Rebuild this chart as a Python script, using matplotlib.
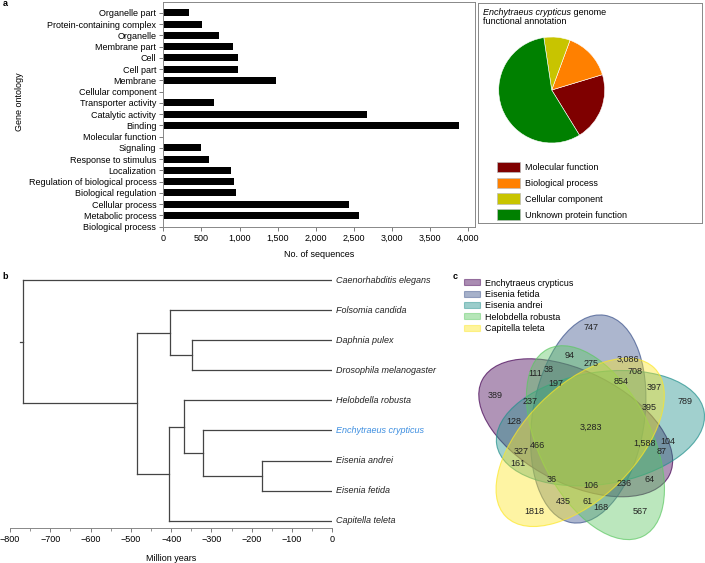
import numpy as np
import matplotlib
matplotlib.use('Agg')
import matplotlib.pyplot as plt
from matplotlib.patches import Ellipse, Patch
from matplotlib.ticker import FuncFormatter, MultipleLocator

plt.rcParams['font.family'] = ['Liberation Sans', 'DejaVu Sans']
plt.rcParams['font.size'] = 6.5

W, H = 705, 563

# ---- panel a: gene ontology counts (bottom to top)
go_terms = ['Biological process', 'Metabolic process', 'Cellular process',
            'Biological regulation', 'Regulation of biological process',
            'Localization', 'Response to stimulus', 'Signaling',
            'Molecular function', 'Binding', 'Catalytic activity',
            'Transporter activity', 'Cellular component', 'Membrane',
            'Cell part', 'Cell', 'Membrane part', 'Organelle',
            'Protein-containing complex', 'Organelle part']
go_counts = [0, 2562, 2440, 953, 927, 892, 595, 494,
             0, 3882, 2667, 660,
             0, 1478, 984, 984, 918, 734, 511, 341]

# ---- pie: functional annotation
pie_labels = ['Molecular function', 'Biological process',
              'Cellular component', 'Unknown protein function']
pie_values = [20.9, 14.7, 8.0, 56.4]
pie_colors = ['#7f0000', '#ff8000', '#c8c400', '#008000']

# ---- panel b: time tree (node age in million years, children)
tree = (-768, ['Caenorhabditis elegans',
               (-484, [(-404, ['Folsomia candida',
                               (-349, ['Daphnia pulex', 'Drosophila melanogaster'])]),
                       (-405, [(-367, ['Helobdella robusta',
                                       (-322, ['Enchytraeus crypticus',
                                               (-174, ['Eisenia andrei', 'Eisenia fetida'])])]),
                               'Capitella teleta'])])])
focal_species = 'Enchytraeus crypticus'

# ---- panel c: venn
venn_sets = ['Enchytraeus crypticus', 'Eisenia fetida', 'Eisenia andrei',
             'Helobdella robusta', 'Capitella teleta']
venn_colors = ['#440154', '#3b528b', '#21908c', '#5dc863', '#fde725']
venn_counts = ['747', '94', '275', '3,086', '708', '111', '38', '197', '854',
               '397', '389', '237', '789', '395', '128', '3,283', '1,588',
               '104', '466', '87', '327', '161', '36', '64', '106', '236',
               '435', '61', '168', '1818', '567']
venn_label_xy = [(591, 327), (570, 355), (591, 364), (628, 359), (635, 371),
                 (535, 373), (549, 369), (556, 383), (621, 381), (654, 387),
                 (495, 395), (530, 402), (685, 402), (649, 408), (514, 421),
                 (591, 427), (645, 443), (668, 441), (537, 446), (662, 451),
                 (521, 451), (518, 464), (552, 479), (650, 479), (591, 486),
                 (624, 483), (563, 502), (588, 502), (601, 507), (534, 511),
                 (640, 511)]


def px_axes(fig, x0, y0, x1, y1):
    return fig.add_axes([x0 / W, 1 - y1 / H, (x1 - x0) / W, (y1 - y0) / H])


fig = plt.figure(figsize=(W / 100, H / 100), dpi=100)
grey = '#666666'

# ================= panel a bars
ax = px_axes(fig, 163.3, 1.5, 475, 227)
ypos = np.arange(len(go_terms))
ax.barh(ypos, go_counts, height=0.62, color='black')
ax.set_yticks(ypos)
ax.set_yticklabels(go_terms)
ax.set_xlim(0, 4088)
ax.set_ylim(-0.03, 20.0)
ax.set_xticks(np.arange(0, 4001, 500))
ax.xaxis.set_major_formatter(FuncFormatter(lambda v, p: f'{int(v):,}'))
ax.tick_params(length=3, width=0.6, color=grey, pad=2)
for s in ax.spines.values():
    s.set_color('#888888')
    s.set_linewidth(0.7)
ax.set_xlabel('No. of sequences', labelpad=5)
fig.text(19 / W, 1 - 102 / H, 'Gene ontology', rotation=90, ha='center', va='center')

# ================= pie panel
box = px_axes(fig, 478, 3, 702, 223)
box.set_xticks([])
box.set_yticks([])
for s in box.spines.values():
    s.set_color('#888888')
    s.set_linewidth(0.7)
t1 = fig.text(483 / W, 1 - 12.5 / H, 'Enchytraeus crypticus', style='italic', va='center')
box.annotate(' genome', xy=(1, 0.5), xycoords=t1, va='center', ha='left')
fig.text(483 / W, 1 - 21.8 / H, 'functional annotation', va='center')

pax = px_axes(fig, 498.7, 37, 604.7, 143)
pax.pie(pie_values, colors=pie_colors, startangle=-58.4, counterclock=True,
        wedgeprops=dict(edgecolor='white', linewidth=0.4))
pax.set_xlim(-1, 1)
pax.set_ylim(-1, 1)
pax.set_aspect('equal')
box.legend([Patch(facecolor=c, edgecolor='#bbbbbb', linewidth=0.5) for c in pie_colors],
           pie_labels, loc='upper left', bbox_to_anchor=(497 / W, 1 - 161.7 / H),
           bbox_transform=fig.transFigure, frameon=False, borderpad=0,
           borderaxespad=0, handlelength=2.5, handleheight=1.45,
           labelspacing=0.57, handletextpad=0.6, fontsize=6.5)

# ================= panel b tree
tax = px_axes(fig, 10, 277, 332.3, 528.3)
line_kw = dict(color='#444444', linewidth=0.9, solid_capstyle='projecting')
leaf_y = [8]


def draw(node):
    if isinstance(node, str):
        y = leaf_y[0]
        leaf_y[0] -= 1
        col = '#3d8ee0' if node == focal_species else '#222222'
        tax.annotate(node, xy=(0, y), xytext=(3, 0), textcoords='offset points',
                     style='italic', va='center', ha='left', color=col,
                     annotation_clip=False)
        return 0, y
    age, children = node
    ys = []
    for ch in children:
        cx, cy = draw(ch)
        tax.plot([age, cx], [cy, cy], **line_kw)
        ys.append(cy)
    tax.plot([age, age], [min(ys), max(ys)], **line_kw)
    return age, (ys[0] + ys[-1]) / 2


root_x, root_y = draw(tree)
tax.plot([root_x - 7, root_x], [root_y, root_y], **line_kw)
tax.set_xlim(-800, 0)
tax.set_ylim(-0.253, 8.1)
for s in ['top', 'right', 'left']:
    tax.spines[s].set_visible(False)
tax.spines['bottom'].set_color('#888888')
tax.spines['bottom'].set_linewidth(0.7)
tax.set_yticks([])
tax.xaxis.set_major_locator(MultipleLocator(100))
tax.xaxis.set_minor_locator(MultipleLocator(50))
tax.tick_params(axis='x', which='major', length=3, width=0.6, color=grey, pad=2)
tax.tick_params(axis='x', which='minor', length=2, width=0.5, color=grey)
tax.set_xlabel('Million years', labelpad=7)

# ================= panel c venn (symmetric five-ellipse layout, pixel units)
vax = px_axes(fig, 440, 262, 705, 563)
vax.set_xlim(440, 705)
vax.set_ylim(563, 262)
vax.axis('off')
ox, oy, off, ea, eb = 588, 432, 13, 105, 56
tip_angles = [161, 89, 17, 305, 233]
for ang, col in zip(tip_angles, venn_colors):
    r = np.deg2rad(ang)
    cx, cy = ox + off * np.cos(r), oy - off * np.sin(r)
    vax.add_patch(Ellipse((cx, cy), 2 * ea, 2 * eb, angle=-(ang - 8),
                          facecolor=col, alpha=0.42, edgecolor='none'))
    vax.add_patch(Ellipse((cx, cy), 2 * ea, 2 * eb, angle=-(ang - 8),
                          facecolor='none', edgecolor=col, alpha=0.7, linewidth=0.8))
for txt, (x, y) in zip(venn_counts, venn_label_xy):
    vax.text(x, y, txt, ha='center', va='center', fontsize=6.5, color='#222222')
vax.legend([Patch(facecolor=c, alpha=0.45, edgecolor=c, linewidth=0.8) for c in venn_colors],
           venn_sets, loc='upper left', bbox_to_anchor=(464 / W, 1 - 278.5 / H),
           bbox_transform=fig.transFigure, frameon=False, borderpad=0,
           borderaxespad=0, handlelength=1.75, handleheight=0.65,
           labelspacing=0.26, handletextpad=0.6, fontsize=6.5)

# panel letters
for lab, x, y in [('a', 5, 4), ('b', 5, 277), ('c', 455, 277)]:
    fig.text(x / W, 1 - y / H, lab, fontweight='bold', fontsize=6.5, ha='center', va='center')

fig.savefig('out.png', dpi=100)
